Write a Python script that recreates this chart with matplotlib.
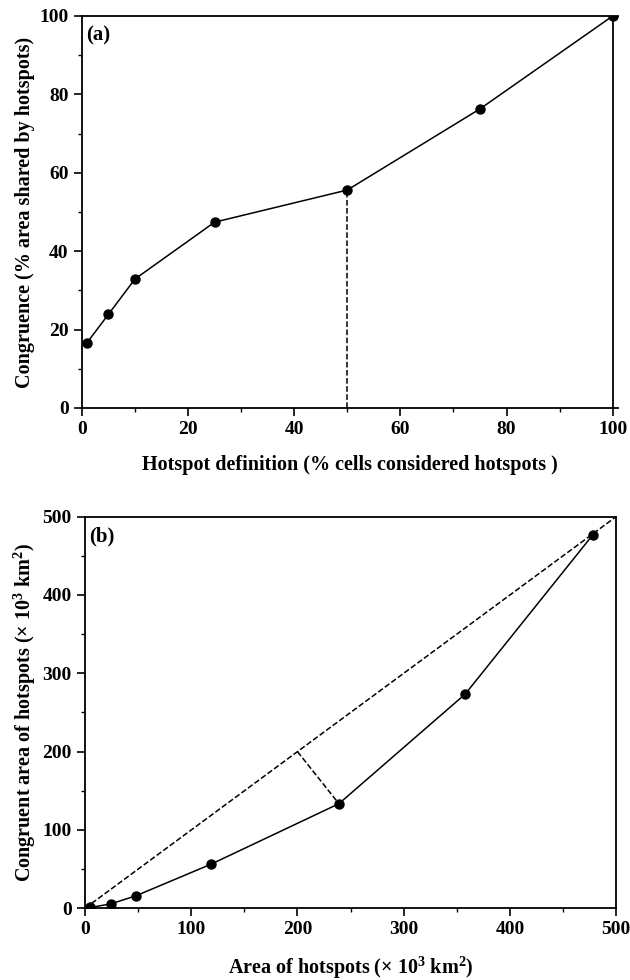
import numpy as np
import matplotlib
matplotlib.use("Agg")
import matplotlib.pyplot as plt
from matplotlib.ticker import MultipleLocator

plt.rcParams['font.family'] = ['Liberation Serif', 'DejaVu Serif']
plt.rcParams['font.weight'] = 'bold'
plt.rcParams['mathtext.fontset'] = 'custom'
plt.rcParams['mathtext.rm'] = 'Liberation Serif:bold'
plt.rcParams['mathtext.default'] = 'rm'

# panel (a): congruence vs hotspot definition
definition_pct = [1, 5, 10, 25, 50, 75, 100]
congruence_pct = [16.7, 23.9, 32.9, 47.4, 55.6, 76.3, 100]

# panel (b): congruent area vs total hotspot area (x 10^3 km^2)
hotspot_area = [4.8, 24, 47.5, 119, 239, 358, 478]
congruent_area = [1, 5.5, 15.7, 56.5, 133.5, 273.6, 476.7]

tick_fs = 14
label_fs = 14.5

fig = plt.figure(figsize=(6.3, 9.8), dpi=100)


def style_axis(ax, xmaj, xmin, ymaj, ymin):
    ax.xaxis.set_major_locator(MultipleLocator(xmaj))
    ax.xaxis.set_minor_locator(MultipleLocator(xmin))
    ax.yaxis.set_major_locator(MultipleLocator(ymaj))
    ax.yaxis.set_minor_locator(MultipleLocator(ymin))
    ax.tick_params(which='major', direction='out', length=6, width=1.2,
                   labelsize=tick_fs, top=False, right=False)
    ax.tick_params(which='minor', direction='out', length=3, width=1.0,
                   top=False, right=False)
    for lab in ax.get_xticklabels() + ax.get_yticklabels():
        lab.set_fontweight('bold')
    for sp in ax.spines.values():
        sp.set_linewidth(1.3)


# ---- (a)
ax1 = fig.add_axes([0.130, 0.5837, 0.851, 0.400])
ax1.plot(definition_pct, congruence_pct, '-o', color='k', lw=1.1, ms=6.5)
ax1.plot([50, 50], [0, congruence_pct[4]], '--', color='k', lw=1.1)
ax1.plot([100, 100], [0, 100], '-', color='k', lw=1.3)
ax1.set_xlim(0, 101)
ax1.set_ylim(0, 100)
ax1.spines['right'].set_visible(False)
style_axis(ax1, 20, 10, 20, 10)
ax1.set_xlabel("Hotspot definition (% cells considered hotspots )",
               fontsize=label_fs, fontweight='bold', labelpad=12)
ax1.set_ylabel("Congruence (% area shared by hotspots)",
               fontsize=label_fs, fontweight='bold', labelpad=3)
ax1.text(0.008, 0.975, "(a)", transform=ax1.transAxes, ha='left', va='top',
         fontsize=15, fontweight='bold')

# ---- (b)
ax2 = fig.add_axes([0.135, 0.0732, 0.843, 0.3996])
ax2.plot([0, 500], [0, 500], '--', color='k', lw=1.1)
ax2.plot([200, hotspot_area[4]], [200, congruent_area[4]], '--', color='k', lw=1.1)
ax2.plot(hotspot_area, congruent_area, '-o', color='k', lw=1.1, ms=6.5)
ax2.set_xlim(0, 500)
ax2.set_ylim(0, 500)
style_axis(ax2, 100, 50, 100, 50)
ax2.set_xlabel("Area of hotspots (× 10$^3$ km$^2$)",
               fontsize=label_fs, fontweight='bold', labelpad=12)
ax2.set_ylabel("Congruent area of hotspots (× 10$^3$ km$^2$)",
               fontsize=label_fs, fontweight='bold', labelpad=3)
ax2.text(0.008, 0.975, "(b)", transform=ax2.transAxes, ha='left', va='top',
         fontsize=15, fontweight='bold')

fig.savefig("out.png", dpi=100)
